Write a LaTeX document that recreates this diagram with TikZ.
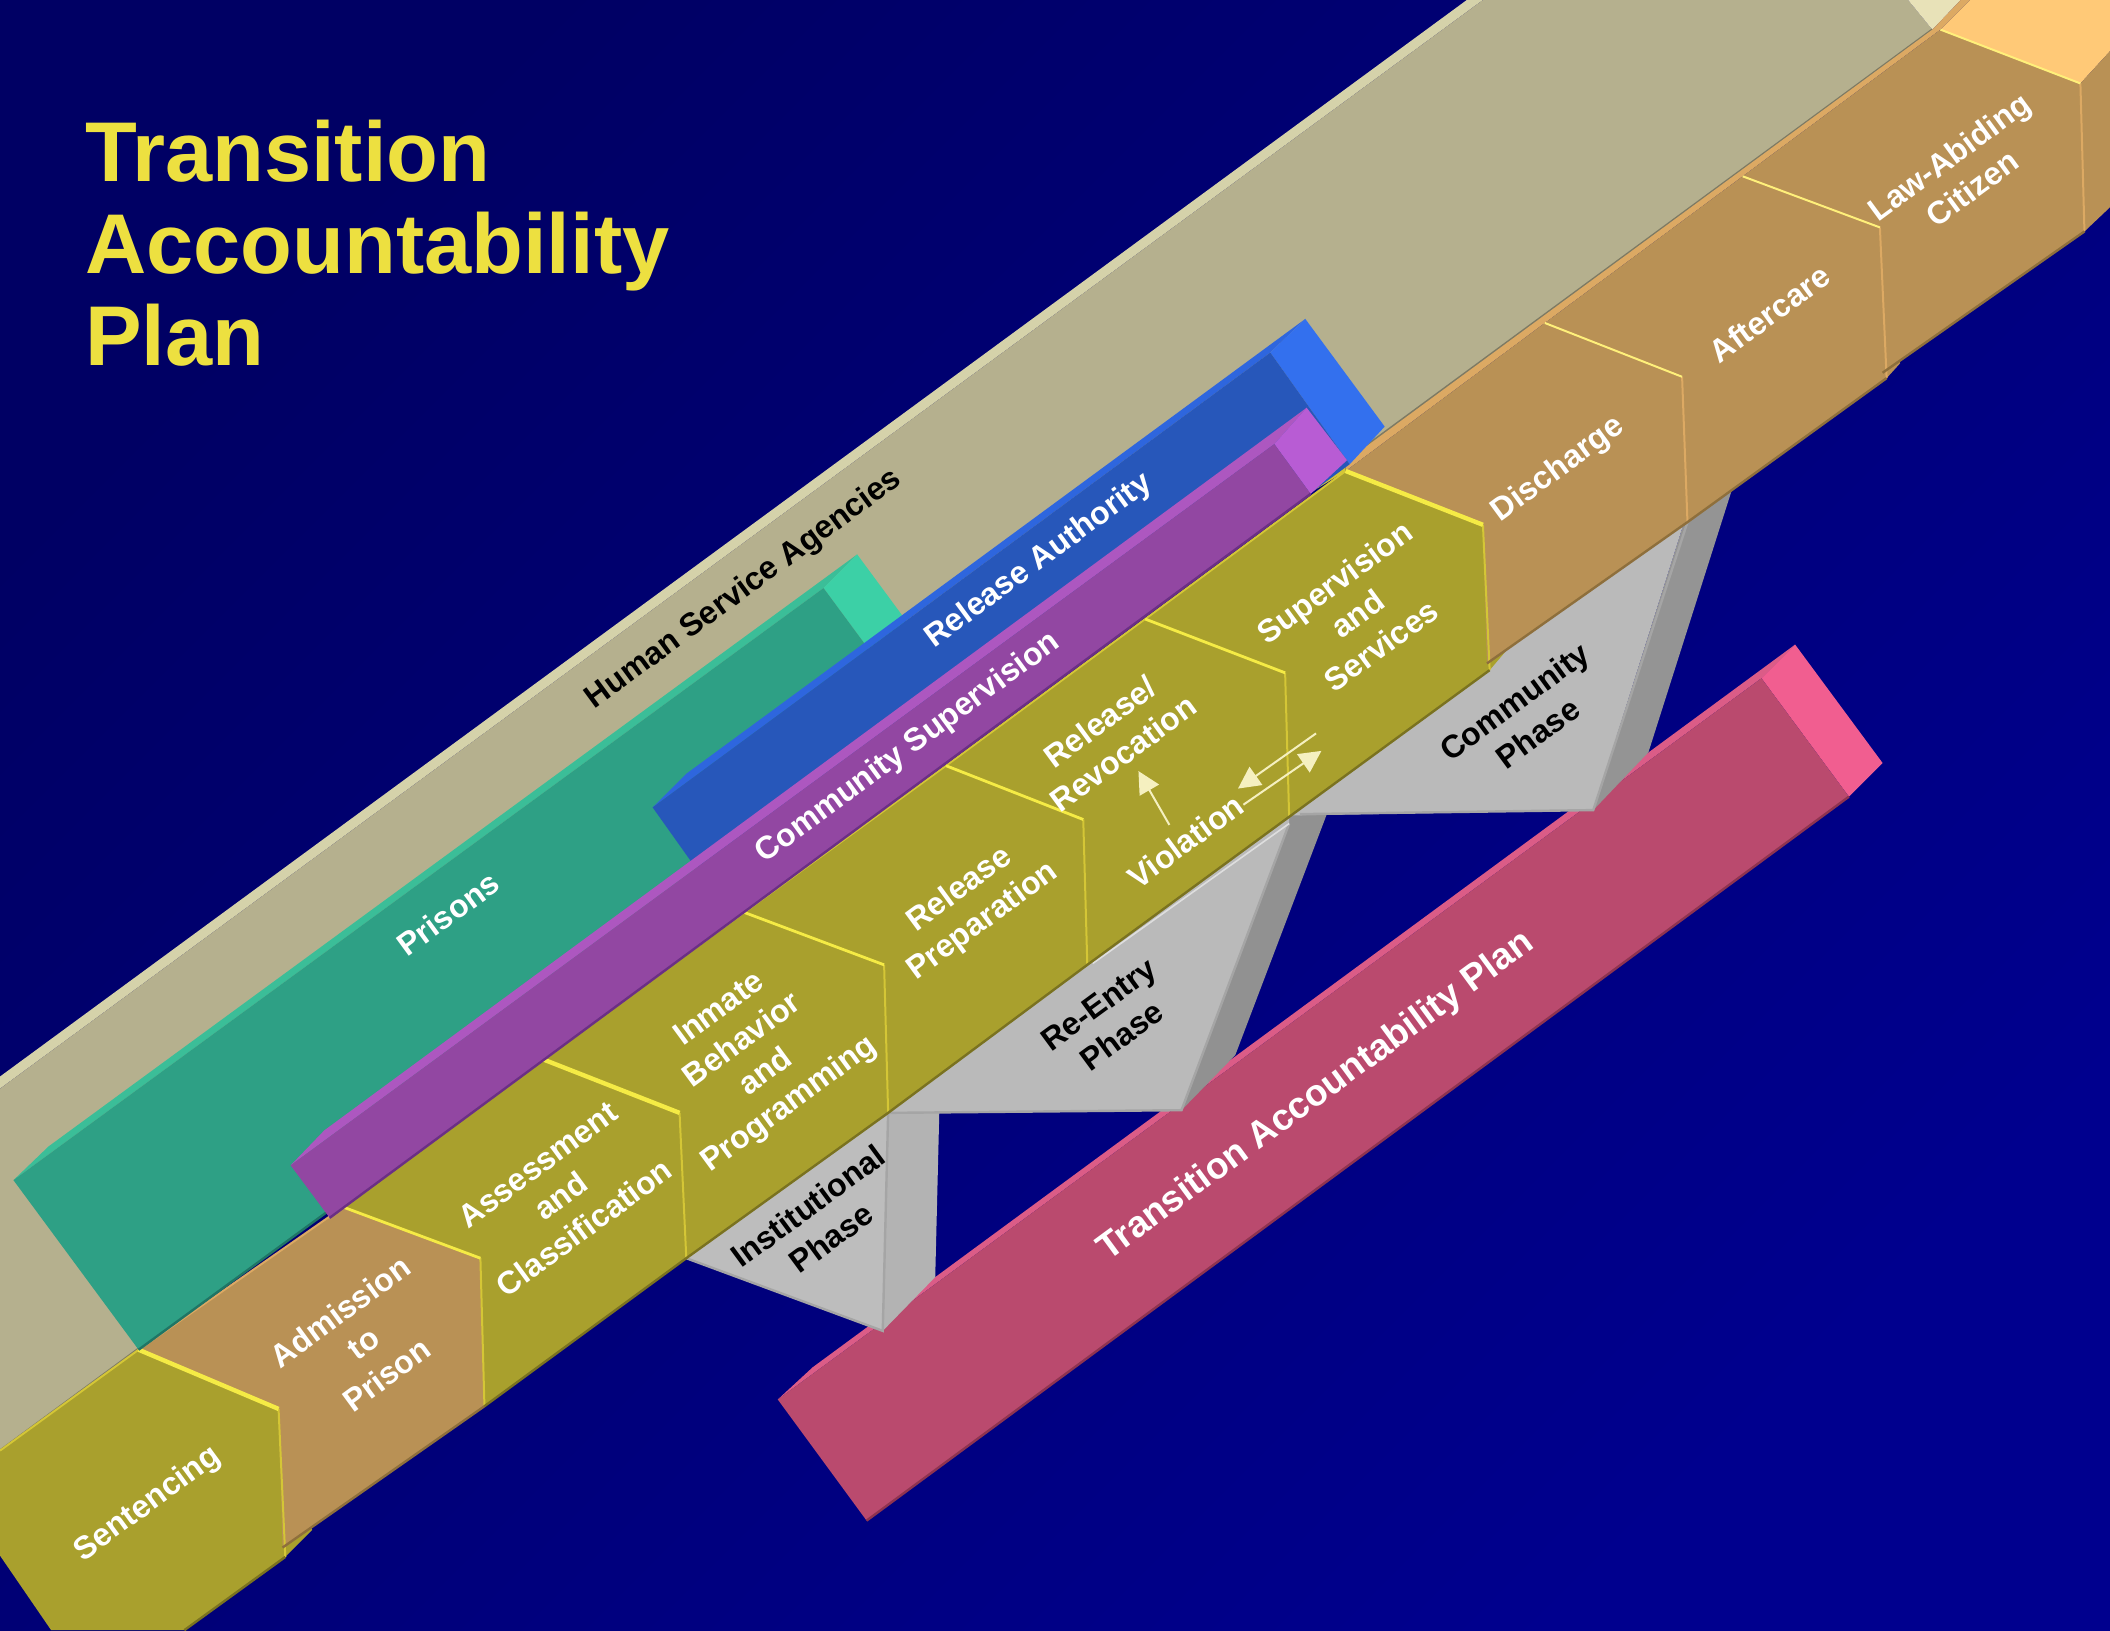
\documentclass[tikz,border=0pt]{standalone}
\usepackage{fontspec}
\setmainfont{Liberation Sans}
\usetikzlibrary{arrows.meta, calc}
\definecolor{bg-dark}{HTML}{000064}
\definecolor{bg-bright}{HTML}{00008E}
\tikzset{
        title-text/.style={
            text={rgb,255:red,237;green,224;blue,64}, font=\bfseries\fontsize{42.4}{46}\selectfont, align=left, inner sep=0pt
        },
        white-label/.style={
            text=white, font=\bfseries\fontsize{16}{19.6}\selectfont, align=center, rotate=36.3, inner sep=0pt
        },
        black-label/.style={white-label, text=black},
        big-label/.style={white-label, font=\bfseries\fontsize{18.5}{23}\selectfont},
        olive-face/.style={fill={rgb,255:red,169;green,160;blue,45}},
        olive-rim/.style={draw={rgb,255:red,212;green,198;blue,54}, line width=1pt},
        olive-fold/.style={draw={rgb,255:red,245;green,235;blue,69}, line width=1.4pt},
        olive-low/.style={draw={rgb,255:red,122;green,114;blue,32}, line width=1.2pt},
        tan-face/.style={fill={rgb,255:red,185;green,145;blue,85}},
        tan-rim/.style={draw={rgb,255:red,220;green,169;blue,99}, line width=1pt},
        tan-fold/.style={draw={rgb,255:red,255;green,240;blue,122}, line width=1pt},
        tan-low/.style={draw={rgb,255:red,142;green,111;blue,60}, line width=1.2pt},
        thin-arrow/.style={
            draw={rgb,255:red,245;green,240;blue,192}, line width=1pt,
            -{Triangle[length=11pt, width=11pt]}
        },
}

\begin{document}
\begin{tikzpicture}[x=.67283pt, y=-.67283pt]

        \useasboundingbox (0,0) rectangle (1568,1211.4);
        \shade [top color=bg-dark, bottom color=bg-bright, shading angle=45] (0,0) rectangle (1568,1211.4);

        %DRAW HUMAN SERVICE BAND
        \fill [fill={rgb,255:red,213;green,210;blue,170}] (0,800) -- (1090,0) -- (1102,0) -- (0,809) -- cycle;
        \fill [fill={rgb,255:red,181;green,176;blue,142}] (0,809) -- (1102,0) -- (1418,0) -- (1436,22) -- (0,1078) -- cycle;
        \fill [fill={rgb,255:red,232;green,226;blue,184}] (1418,0) -- (1436,22) -- (1457,0) -- cycle;
        \draw [draw={rgb,255:red,125;green,122;blue,100}, line width=1.2pt] (0,1078) -- (1436,22);

        %DRAW TRANSITION PLAN BAR
        \fill [fill={rgb,255:red,219;green,92;blue,135}] (578,1040) -- (604,1016) -- (1334,479) -- (1309,504) -- cycle;
        \fill [fill={rgb,255:red,241;green,94;blue,144}] (1309,504) -- (1334,479) -- (1399,567) -- (1374,592) -- cycle;
        \fill [fill={rgb,255:red,186;green,74;blue,110}] (578,1040) -- (644,1130) -- (1374,592) -- (1309,504) -- cycle;
        \draw [draw={rgb,255:red,142;green,51;blue,80}, line width=1.2pt] (644,1130) -- (1374,592);

        %DRAW PHASE WEDGES
        \fill [fill={rgb,255:red,179;green,179;blue,179}] (660,827) -- (698,827) -- (695,949) -- (656,989) -- cycle;
        \fill [fill={rgb,255:red,189;green,189;blue,189}] (510,930) -- (660,822) -- (656,989) -- (510,935) -- cycle;
        \fill [fill={rgb,255:red,145;green,145;blue,145}] (958,605) -- (986,605) -- (918,784) -- (878,825) -- cycle;
        \fill [fill={rgb,255:red,186;green,186;blue,186}] (660,820) -- (958,602) -- (958,612) -- (878,825) -- (660,827) -- cycle;
        \fill [fill={rgb,255:red,148;green,148;blue,148}] (1254,380) -- (1287,364) -- (1225,559) -- (1184,602) -- cycle;
        \fill [fill={rgb,255:red,186;green,186;blue,186}] (958,598) -- (1254,380) -- (1184,602) -- (958,606) -- cycle;
        \draw [draw={rgb,255:red,165;green,165;blue,165}, line width=1.2pt] (510,935) -- (656,989) -- (660,827) (660,827) -- (878,825) -- (958,612) (966,605) -- (1184,602) -- (1254,388);
        \draw [draw={rgb,255:red,222;green,222;blue,222}, line width=.8pt] (812,716) -- (958,612);

        %DRAW STEP CORNERS
        \coordinate (T0)  at (0,1078);
        \coordinate (T1)  at (103,1003);    \coordinate (R1)  at (207,1047);    \coordinate (B1)  at (212,1157);
        \coordinate (T2)  at (255,897);     \coordinate (R2)  at (357,935);     \coordinate (B2)  at (360,1045);
        \coordinate (T3)  at (403,787);     \coordinate (R3)  at (505,827);     \coordinate (B3)  at (510,935);
        \coordinate (T4)  at (553,678);     \coordinate (R4)  at (657,717);     \coordinate (B4)  at (660,827);
        \coordinate (T5)  at (703,569);     \coordinate (R5)  at (805,609);     \coordinate (B5)  at (808,717);
        \coordinate (T6)  at (851,460);     \coordinate (R6)  at (955,500);     \coordinate (B6)  at (958,607);
        \coordinate (T7)  at (1000,350);    \coordinate (R7)  at (1102,390);    \coordinate (B7)  at (1107,498);
        \coordinate (T8)  at (1148,240);    \coordinate (R8)  at (1250,280);    \coordinate (B8)  at (1254,388);
        \coordinate (T9)  at (1295,131);    \coordinate (R9)  at (1397,169);    \coordinate (B9)  at (1402,281);
        \coordinate (T10) at (1442,22);     \coordinate (R10) at (1546,62);     \coordinate (B10) at (1549,172);

        %DRAW STEP TIPS AND LAST STEP ENDS
        \fill [olive-face] (B1) -- (232,1137) -- (R1) -- cycle;
        \fill [olive-face] (B7) -- (1124,478) -- (R7) -- cycle;
        \fill [tan-face]   (B9) -- (1412,270) -- (R9) -- cycle;
        \fill [fill={rgb,255:red,255;green,201;blue,119}] (T10) -- (R10) -- (1568,38) -- (1568,0) -- (1464,0) -- cycle;
        \fill [tan-face]   (R10) -- (B10) -- (1568,154) -- (1568,38) -- cycle;
        \fill [fill={rgb,255:red,220;green,169;blue,99}] (T10) -- (1464,0) -- (1457,0) -- (1436,22) -- (1000,343) -- (T7) -- (T8) -- (T9) -- cycle;
        \fill [fill={rgb,255:red,212;green,198;blue,54}] (T7) -- (1000,343) -- (974,366) -- cycle;

        %DRAW STEP FACES
        \fill [olive-face] (T0) -- (T1) -- (R1) -- (B1) -- (137,1211.4) -- (38,1211.4) -- (0,1156) -- cycle;
        \fill [tan-face]   (T1) -- (T2) -- (R2) -- (B2) -- ($(B1)+(-2,-7)$) -- (R1) -- cycle;
        \fill [olive-face] (T2) -- (T3) -- (R3) -- (B3) -- (B2) -- (R2) -- cycle;
        \fill [olive-face] (T3) -- (T4) -- (R4) -- (B4) -- (B3) -- (R3) -- cycle;
        \fill [olive-face] (T4) -- (T5) -- (R5) -- (B5) -- (B4) -- (R4) -- cycle;
        \fill [olive-face] (T5) -- (T6) -- (R6) -- (B6) -- (B5) -- (R5) -- cycle;
        \fill [olive-face] (T6) -- (T7) -- (R7) -- (B7) -- (B6) -- (R6) -- cycle;
        \fill [tan-face]   (T7) -- (T8) -- (R8) -- (B8) -- ($(B7)+(-2,-5)$) -- (R7) -- cycle;
        \fill [tan-face]   (T8) -- (T9) -- (R9) -- (B9) -- (B8) -- (R8) -- cycle;
        \fill [tan-face]   (T9) -- (T10) -- (R10) -- (B10) -- ($(B9)+(-3,-4)$) -- (R9) -- cycle;

        %DRAW STEP EDGES
        \draw [olive-rim] (T0) -- (T1) (T2) -- (T3) -- (T4) -- (T5) -- (T6) -- (T7);
        \draw [tan-rim] (T1) -- (T2);
        \draw [olive-rim] (R1) -- (B1) (R2) -- (B2) (R3) -- (B3) (R4) -- (B4) (R5) -- (B5) (R6) -- (B6) (R7) -- (B7);
        \draw [tan-rim] (R8) -- (B8) (R9) -- (B9) (R10) -- (B10);
        \draw [olive-fold] (T2) -- (R2) (T4) -- (R4) (T5) -- (R5) (T6) -- (R6);
        \draw [olive-fold, line width=2.2pt] (T1) -- (R1) (T3) -- (R3) (T7) -- (R7);
        \draw [tan-fold] (T8) -- (R8) (T9) -- (R9) (T10) -- (R10);
        \draw [olive-low] (137,1211.4) -- (B1) (B2) -- (B3) -- (B4) -- (B5) -- (B6) -- (B7);
        \draw [tan-low] ($(B1)+(-2,-7)$) -- (B2) ($(B7)+(-2,-5)$) -- (B8) -- (B9) ($(B9)+(-3,-4)$) -- (B10);

        %DRAW PRISONS BAR
        \fill [fill={rgb,255:red,59;green,190;blue,152}] (10,877) -- (36,852) -- (637,412) -- (612,437) -- cycle;
        \fill [fill={rgb,255:red,60;green,208;blue,166}] (612,437) -- (637,412) -- (730,538) -- (705,563) -- cycle;
        \fill [fill={rgb,255:red,46;green,160;blue,133}] (10,877) -- (T1) -- (705,563) -- (612,437) -- cycle;
        \draw [draw={rgb,255:red,31;green,117;blue,101}, line width=1.2pt] (T1) -- (705,563);

        %DRAW RELEASE AUTHORITY BAR
        \fill [fill={rgb,255:red,46;green,102;blue,222}] (485,600) -- (510,575) -- (970,237) -- (944,262) -- cycle;
        \fill [fill={rgb,255:red,51;green,112;blue,238}] (944,262) -- (970,237) -- (1029,317) -- (1003,345) -- cycle;
        \fill [fill={rgb,255:red,39;green,87;blue,186}] (485,600) -- (544,683) -- (1003,345) -- (944,262) -- cycle;

        %DRAW COMMUNITY SUPERVISION BAR
        \fill [fill={rgb,255:red,173;green,87;blue,192}] (216,866) -- (241,840) -- (971,303) -- (947,330) -- cycle;
        \fill [fill={rgb,255:red,184;green,92;blue,212}] (947,330) -- (971,303) -- (1001,342) -- (974,367) -- cycle;
        \fill [fill={rgb,255:red,146;green,71;blue,162}] (216,866) -- (245,905) -- (974,367) -- (947,330) -- cycle;
        \draw [draw={rgb,255:red,107;green,47;blue,133}, line width=1.2pt] (245,905) -- (974,367);

        %DRAW LABELS
        \node [title-text, anchor=west]  (TITLE) at (63,181)     {Transition\\Accountability\\Plan};
        \node [black-label]  (HUMAN)  at (553,438)   {Human Service Agencies};
        \node [white-label]  (PRIS)   at (333,679)   {Prisons};
        \node [white-label]  (AUTH)   at (772,417)   {Release Authority};
        \node [white-label]  (SUPER)  at (675,556)   {Community Supervision};
        \node [white-label]  (SENT)   at (110,1118)  {Sentencing};
        \node [white-label]  (ADMIT)  at (270,998)   {Admission\\to\\Prison};
        \node [white-label]  (ASSESS) at (417,889)   {Assessment\\and\\Classification};
        \node [white-label]  (INMATE) at (561,786)   {Inmate\\Behavior\\and\\Programming};
        \node [white-label]  (PREP)   at (722,673)   {Release\\Preparation};
        \node [white-label]  (REVOKE) at (826,548)   {Release/\\Revocation};
        \node [white-label]  (VIOL)   at (881,625)   {Violation};
        \node [white-label]  (SERV)   at (1009,456)  {Supervision\\and\\Services};
        \node [white-label]  (DISCH)  at (1158,349)  {Discharge};
        \node [white-label]  (AFTER)  at (1315,233)  {Aftercare};
        \node [white-label]  (CITIZ)  at (1457,128)  {Law-Abiding\\Citizen};
        \node [black-label]  (INST)   at (609,908)   {Institutional\\Phase};
        \node [black-label]  (REENT)  at (825,758)   {Re-Entry\\Phase};
        \node [black-label]  (COMM)   at (1134,533)  {Community\\Phase};
        \node [big-label]    (PLAN)   at (978,815)   {Transition Accountability Plan};

        % CONNECT VIOLATION ARROWS
        \coordinate (UPS)  at (869,613);   \coordinate (UPE)  at (846,573);
        \coordinate (FWDS) at (924,598);   \coordinate (FWDE) at (982,558);
        \coordinate (BCKS) at (978,545);   \coordinate (BCKE) at (920,586);
        \draw [thin-arrow] (UPS) -- (UPE);
        \draw [thin-arrow] (FWDS) -- (FWDE);
        \draw [thin-arrow] (BCKS) -- (BCKE);

\end{tikzpicture}
\end{document}
